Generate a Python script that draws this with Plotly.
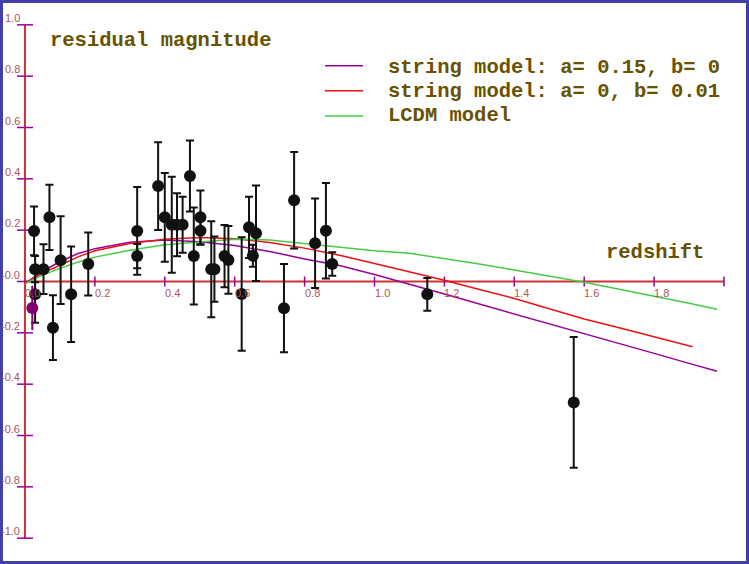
import plotly.graph_objects as go

# ---------------- data ----------------
redshift = [0.026, 0.029, 0.029, 0.053, 0.070, 0.080, 0.102, 0.132, 0.181,
            0.321, 0.321, 0.381, 0.400, 0.420, 0.435, 0.451, 0.472, 0.483,
            0.502, 0.502, 0.533, 0.542, 0.571, 0.582, 0.620, 0.641, 0.652,
            0.661, 0.741, 0.770, 0.830, 0.861, 0.879, 1.151, 1.570]
residual = [0.197, 0.048, -0.050, 0.048, 0.250, -0.180, 0.083, -0.050, 0.068,
            0.197, 0.099, 0.372, 0.250, 0.221, 0.221, 0.221, 0.411, 0.099,
            0.250, 0.198, 0.048, 0.048, 0.099, 0.084, -0.049, 0.211, 0.100,
            0.188, -0.104, 0.317, 0.149, 0.198, 0.068, -0.050, -0.471]
residual_err = [0.095, 0.051, 0.111, 0.097, 0.127, 0.126, 0.171, 0.186, 0.123,
                0.171, 0.047, 0.171, 0.173, 0.187, 0.123, 0.109, 0.138, 0.189,
                0.105, 0.055, 0.187, 0.127, 0.121, 0.132, 0.221, 0.119, 0.043,
                0.186, 0.172, 0.188, 0.174, 0.186, 0.046, 0.064, 0.255]

special_z = [0.021]
special_res = [-0.103]
special_err = [0.086]

model_z = [0.0, 0.05, 0.1, 0.15, 0.2, 0.3, 0.4, 0.5, 0.6, 0.7, 0.8, 0.9, 1.0,
           1.1, 1.2, 1.3, 1.4, 1.5, 1.6, 1.7, 1.8, 1.9, 1.98]
string_a015 = [-0.008, 0.040, 0.077, 0.108, 0.128, 0.153, 0.162, 0.155, 0.140,
               0.117, 0.088, 0.062, 0.027, -0.010, -0.049, -0.088, -0.126,
               -0.165, -0.203, -0.242, -0.280, -0.319, -0.350]
model_z_b = model_z[:-2] + [1.91]
string_b001 = [-0.008, 0.033, 0.063, 0.095, 0.120, 0.148, 0.165, 0.171, 0.167,
               0.152, 0.130, 0.102, 0.070, 0.038, 0.005, -0.031, -0.066,
               -0.106, -0.146, -0.180, -0.216, -0.254]
lcdm = [-0.008, 0.025, 0.051, 0.075, 0.095, 0.122, 0.143, 0.155, 0.165,
        0.162, 0.148, 0.132, 0.120, 0.110, 0.090, 0.068, 0.045, 0.022,
        -0.003, -0.030, -0.059, -0.085, -0.108]

x_ticks = [0.0, 0.2, 0.4, 0.6, 0.8, 1.0, 1.2, 1.4, 1.6, 1.8, 2.0]
x_tick_labels = ["0.0", "0.2", "0.4", "0.6", "0.8", "1.0", "1.2", "1.4", "1.6", "1.8", ""]
y_ticks = [1.0, 0.8, 0.6, 0.4, 0.2, 0.0, -0.2, -0.4, -0.6, -0.8, -1.0]
y_tick_labels = ["1.0", "0.8", "0.6", "0.4", "0.2", "-0.0", "-0.2", "-0.4", "-0.6", "-0.8", "-1.0"]

legend_names = ["string model: a= 0.15, b= 0", "string model: a= 0, b= 0.01", "LCDM model"]

# ---------------- styling ----------------
W, H = 749, 564
ML, MR, MT, MB = 4, 4, 12, 13
XR = [-0.06, 2.06]
YR = [-1.05, 1.05]
PW, PH = W - ML - MR, H - MT - MB

PURPLE = "#990099"
RED = "#ee1111"
GREEN = "#44cc44"
AXIS_RED = "#cc3333"
TICK_PURPLE = "#990099"
LABEL_COL = "#a85858"
TEXT_COL = "#665200"
MONO = "Liberation Mono"


def px_to_paper_x(px):
    return (px - ML) / PW


def py_to_paper_y(py):
    return (H - MB - py) / PH


fig = go.Figure()

# model curves
fig.add_trace(go.Scatter(x=model_z, y=string_a015, mode="lines",
                         line=dict(color=PURPLE, width=1.5), name=legend_names[0]))
fig.add_trace(go.Scatter(x=model_z_b, y=string_b001, mode="lines",
                         line=dict(color=RED, width=1.5), name=legend_names[1]))
fig.add_trace(go.Scatter(x=model_z, y=lcdm, mode="lines",
                         line=dict(color=GREEN, width=1.5), name=legend_names[2]))

# data points
fig.add_trace(go.Scatter(x=redshift, y=residual, mode="markers",
                         marker=dict(color="#111111", size=12),
                         error_y=dict(type="data", array=residual_err, color="#111111",
                                      thickness=2, width=4),
                         cliponaxis=False))
fig.add_trace(go.Scatter(x=special_z, y=special_res, mode="markers",
                         marker=dict(color="#800070", size=12),
                         error_y=dict(type="data", array=special_err, color="#800070",
                                      thickness=2, width=0),
                         cliponaxis=False))

shapes = []
# axis lines
shapes.append(dict(type="line", xref="x", yref="y", x0=0, x1=0, y0=-1.0, y1=1.0,
                   line=dict(color=AXIS_RED, width=2), layer="below"))
shapes.append(dict(type="line", xref="x", yref="y", x0=0, x1=2.0, y0=0, y1=0,
                   line=dict(color=AXIS_RED, width=2), layer="below"))
# y ticks (crossing the axis)
for yt in y_ticks:
    shapes.append(dict(type="line", xref="x", yref="y", xsizemode="pixel", xanchor=0,
                       x0=-8, x1=8, y0=yt, y1=yt,
                       line=dict(color=TICK_PURPLE, width=1.5), layer="below"))
# x ticks
for xt in x_ticks[1:]:
    shapes.append(dict(type="line", xref="x", yref="y", ysizemode="pixel", yanchor=0,
                       y0=-5, y1=5, x0=xt, x1=xt,
                       line=dict(color=TICK_PURPLE, width=1.5), layer="below"))
# legend samples
for i, col in enumerate([PURPLE, RED, GREEN]):
    yy = py_to_paper_y(65.7 + 25.1 * i)
    shapes.append(dict(type="line", xref="paper", yref="paper",
                       x0=px_to_paper_x(325), x1=px_to_paper_x(363), y0=yy, y1=yy,
                       line=dict(color=col, width=1.5)))
# outer frame
shapes.append(dict(type="rect", xref="paper", yref="paper",
                   x0=px_to_paper_x(1.5), x1=px_to_paper_x(747.5),
                   y0=py_to_paper_y(562.5), y1=py_to_paper_y(1.5),
                   line=dict(color="#4040a8", width=3)))

annotations = []
for yt, lab in zip(y_ticks, y_tick_labels):
    annotations.append(dict(x=0, y=yt, xref="x", yref="y", text=lab, showarrow=False,
                            xanchor="right", yanchor="bottom", xshift=-3, yshift=-1,
                            font=dict(family="Liberation Sans", size=11, color=LABEL_COL)))
for xt, lab in zip(x_ticks, x_tick_labels):
    if lab:
        annotations.append(dict(x=xt, y=0, xref="x", yref="y", text=lab, showarrow=False,
                                xanchor="left", yanchor="top", xshift=-2, yshift=-3,
                                font=dict(family="Liberation Sans", size=11, color=LABEL_COL)))

title_font = dict(family=MONO, size=20.5, color=TEXT_COL)
annotations.append(dict(x=px_to_paper_x(48), y=py_to_paper_y(40), xref="paper", yref="paper",
                        text="<b>residual magnitude</b>", showarrow=False,
                        xanchor="left", yanchor="middle", font=title_font))
annotations.append(dict(x=px_to_paper_x(604), y=py_to_paper_y(252), xref="paper", yref="paper",
                        text="<b>redshift</b>", showarrow=False,
                        xanchor="left", yanchor="middle", font=title_font))
for i, name in enumerate(legend_names):
    annotations.append(dict(x=px_to_paper_x(386), y=py_to_paper_y(67 + 24 * i),
                            xref="paper", yref="paper", text="<b>" + name + "</b>",
                            showarrow=False, xanchor="left", yanchor="middle",
                            font=title_font))

fig.update_layout(
    width=W, height=H,
    margin=dict(l=ML, r=MR, t=MT, b=MB, pad=0),
    paper_bgcolor="white", plot_bgcolor="white",
    showlegend=False,
    xaxis=dict(range=XR, visible=False, showgrid=False, zeroline=False),
    yaxis=dict(range=YR, visible=False, showgrid=False, zeroline=False),
    shapes=shapes, annotations=annotations,
)

fig.write_html("out.html",
               config={"displayModeBar": False},
               post_script="document.body.style.margin='0px';"
                           "document.body.style.overflow='hidden';")
